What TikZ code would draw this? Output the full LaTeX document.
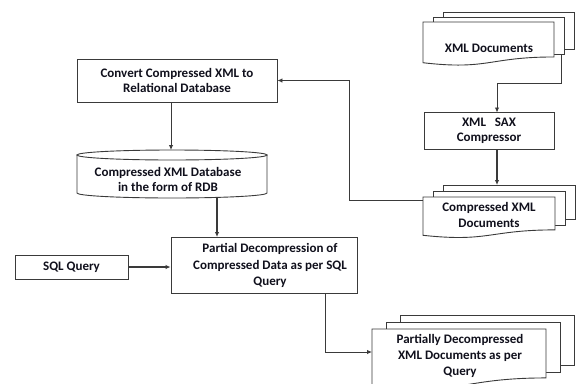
\documentclass[tikz,border=0pt]{standalone}
\usepackage{fontspec}
\setmainfont{Carlito}
\usetikzlibrary{arrows.meta,calc}
\definecolor{ln}{HTML}{3A3A3A}
\definecolor{tx}{HTML}{10101C}
\tikzset{
  box/.style={draw=ln, line width=0.9pt, fill=white, inner sep=0pt},
  lbl/.style={text=tx, font=\fontsize{13}{15.5}\selectfont\bfseries, align=center, inner sep=0pt},
  pagestyle/.style={draw=ln, line width=0.9pt, fill=white},
  conn/.style={draw=ln, line width=0.9pt, -{Latex[length=5pt,width=4.5pt]}},
  thick conn/.style={conn, line width=1.4pt}
}
% multi-document: x, y(top of front page), width, height, dx, dy
\newcommand\mdoc[6]{%
  \draw[pagestyle] ({#1+2*#5},{#2-2*#6}) rectangle ({#1+2*#5+#3},{#2-2*#6+0.802*#4+2});
  \draw[pagestyle] ({#1+#5},{#2-#6}) rectangle ({#1+#5+#3},{#2-#6+0.802*#4+2});
  \draw[pagestyle] (#1,#2) -- ({#1+#3},#2) -- ({#1+#3},{#2+0.802*#4})
    .. controls ({#1+#3/2},{#2+0.802*#4}) and ({#1+#3/2},{#2+1.108*#4}) .. (#1,{#2+0.934*#4}) -- cycle;
}
\begin{document}
\begin{tikzpicture}[x=1pt,y=-1pt]
\useasboundingbox (0,0) rectangle (577,383);
\fill[white] (0,0) rectangle (577,383);

% XML Documents
\mdoc{423}{22}{131}{43.6}{10}{5}
\node[lbl] (xmldocs) at (489,48) {XML Documents};
\coordinate (xmlout) at (561,54);

% XML SAX Compressor
\node[box, minimum width=130pt, minimum height=37pt] (sax) at (489,131) {};
\node[lbl] (saxlbl) at (sax.center) {XML\ \ \ SAX\\ Compressor};
\coordinate (saxin) at (497,112.5);
\coordinate (saxout) at (497,149.5);

% Compressed XML Documents
\mdoc{423}{197}{132}{41}{10}{6}
\node[lbl] (cxd) at (489,215) {Compressed XML\\ Documents};
\coordinate (cxdin) at (497,185);
\coordinate (cxdout) at (423,200);
\coordinate (bendA) at (349,200);

% Convert box
\node[box, minimum width=200pt, minimum height=43pt] (conv) at (177,80.5) {};
\node[lbl] (convlbl) at (conv.center) {Convert Compressed XML to\\ Relational Database};

% Cylinder
\draw[pagestyle] (77,155) -- (77,193) arc[start angle=180, end angle=360, x radius=95pt, y radius=5pt] -- (267,155) -- cycle;
\draw[pagestyle] (172,155) ellipse [x radius=95pt, y radius=5pt];
\node[lbl] (cyl) at (168,179.5) {Compressed XML Database\\ in the form of RDB};
\coordinate (cylin) at (171,150);
\coordinate (cylout) at (217,197.5);

% SQL Query
\node[box, minimum width=113pt, minimum height=24pt] (sql) at (71.5,267) {};
\node[lbl] (sqllbl) at (sql.center) {SQL Query};

% Partial decompression
\node[box, minimum width=186pt, minimum height=56pt] (part) at (264,265) {};
\node[lbl, font=\fontsize{13}{16.5}\selectfont\bfseries] (partlbl) at (270,265.5) {Partial Decompression of\\ Compressed Data as per SQL\\ Query};
\coordinate (partin) at (217,237);
\coordinate (partout) at (325,293);
\coordinate (bendB) at (325,352);

% Partially decompressed documents
\mdoc{372}{329}{174}{61}{14}{7}
\node[lbl, font=\fontsize{13}{16}\selectfont\bfseries] (pdd) at (460,356) {Partially Decompressed\\ XML Documents as per\\ Query};
\coordinate (pddin) at (372,352);

% Connectors
\draw[conn] (xmlout) -- (xmlout |- 0,83) -- (saxin |- 0,83) -- (saxin);
\draw[thick conn] (saxout) -- (cxdin);
\draw[conn] (cxdout) -- (bendA) -- (bendA |- conv.east) -- (conv.east);
\draw[conn] (conv.south -| cylin) -- (cylin);
\draw[thick conn, line width=1.2pt] (cylout) -- (partin);
\draw[thick conn, line width=1.2pt] (sql.east) -- (part.west |- sql.east);
\draw[conn] (partout) -- (bendB) -- (pddin);
\end{tikzpicture}
\end{document}
